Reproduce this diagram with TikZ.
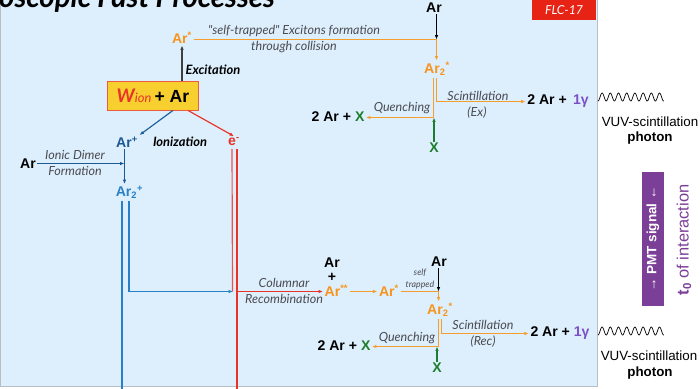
\documentclass[tikz,border=0pt]{standalone}
\usepackage{fontspec}
\setmainfont{Liberation Sans}
\newfontfamily\lato{Lato}
\usetikzlibrary{arrows.meta,calc}
\definecolor{bgblue}{RGB}{221,239,252}
\definecolor{panelgray}{RGB}{185,190,196}
\definecolor{ortext}{RGB}{247,148,29}
\definecolor{orline}{RGB}{246,158,45}
\definecolor{dblue}{RGB}{28,88,148}
\definecolor{mblue}{RGB}{40,128,198}
\definecolor{myred}{RGB}{232,52,40}
\definecolor{mygreen}{RGB}{30,125,45}
\definecolor{mypurple}{RGB}{123,63,152}
\definecolor{gviolet}{RGB}{122,80,200}
\definecolor{labelgray}{RGB}{75,75,82}
\definecolor{wyellow}{RGB}{247,208,48}
\definecolor{wborder}{RGB}{238,90,60}
\definecolor{flcred}{RGB}{230,35,20}
\tikzset{
  lbl/.style={inner sep=1.2pt, font=\fontsize{12}{14}\selectfont\bfseries},
  itl/.style={inner sep=0pt, font=\lato\itshape\fontsize{10.7}{12}\selectfont, text=labelgray},
  smallitl/.style={inner sep=0pt, font=\lato\itshape\fontsize{7.5}{9}\selectfont, text=labelgray},
  bitl/.style={inner sep=0pt, font=\lato\bfseries\itshape\fontsize{11}{12}\selectfont},
  tip/.style={-{Latex[length=3.8pt,width=3pt]}},
  conn/.style={line width=1pt},
  orconn/.style={line width=1.15pt, orline},
  heavy/.style={line width=1.4pt},
  wavy/.style={line width=0.6pt},
  plain/.style={inner sep=0pt, font=\fontsize{11.4}{13}\selectfont},
}
\begin{document}
\begin{tikzpicture}[x=0.3mm,y=-0.3mm]
\useasboundingbox (0,0) rectangle (700,388);
\fill[white] (0,0) rectangle (700,388);
% panel
\draw[panelgray, fill=bgblue, line width=0.6pt] (0.5,-10) rectangle (597,386.5);
% title (cut off at the top edge, as in the reference)
\node[anchor=base west, inner sep=0pt, font=\lato\bfseries\itshape\fontsize{25}{28}\selectfont] (title) at (-1,7) {oscopic Fast Processes};
% FLC box
\node[fill=flcred, text=white, minimum width=54.4pt, minimum height=17.8pt, inner sep=0pt,
      font=\lato\itshape\fontsize{10.5}{12}\selectfont] (flc) at (564,10) {FLC-17};

% helper rows
\coordinate (yq1) at (0,117.5);
\coordinate (yp1) at (0,101.5);
\coordinate (yq2) at (0,346.5);
\coordinate (yp2) at (0,333.5);

% ---------- top part ----------
\node[lbl, text=ortext] (arstar) at (182,38) {Ar\textsuperscript{*}};
\node[lbl] (artop) at (434,8) {Ar};
\node[lbl, text=ortext] (ar2star) at (437,69) {Ar\textsubscript{2}\textsuperscript{*}};
\coordinate (jA) at (436.5,39.5);
\draw[orconn, tip] (arstar.east |- jA) -- (jA) -- (jA |- ar2star.north);
\draw[conn, black, tip] (artop.south -| jA) -- (jA);
\node[itl] (stl1) at (294,31) {"self-trapped" Excitons formation};
\node[itl] (stl2) at (294,47) {through collision};

\node[draw=wborder, fill=wyellow, line width=0.8pt, minimum width=78pt, minimum height=24.7pt, inner sep=0pt] (wbox) at (153,95.5)
  {{\lato\bfseries\itshape\fontsize{16}{18}\selectfont\color{myred}W}{\lato\itshape\fontsize{11}{12}\selectfont\color{myred}ion}\ {\fontsize{15}{18}\selectfont\bfseries + Ar}};
\draw[conn, black!75, tip] (wbox.north -| arstar) -- (arstar.south);
\node[bitl] (excl) at (213,70) {Excitation};

\node[lbl, text=dblue] (arplus) at (127,142) {Ar\textsuperscript{+}};
\node[lbl, text=myred] (eminus) at (234,142) {e\textsuperscript{-}};
\node[bitl] (ionl) at (180,142) {Ionization};
\draw[conn, dblue!80!mblue, tip] ($(wbox.south)+(20,0)$) -- (arplus.north east);
\draw[conn, myred, tip] ($(wbox.south)+(35,0)$) -- (eminus.north);

\node[lbl] (arL) at (28,164) {Ar};
\node[lbl, text=mblue] (ar2plus) at (129.5,192) {Ar\textsubscript{2}\textsuperscript{+}};
\coordinate (bx) at (124.5,163.5);
\draw[conn, dblue, tip] (arL.east |- bx) -- (bx);
\draw[conn, dblue, tip] (arplus.south -| bx) -- (ar2plus.north -| bx);
\node[itl] (idl1) at (75,155) {Ionic Dimer};
\node[itl] (idl2) at (75,171) {Formation};

% long lines
\coordinate (rc) at (233,291.5);
\coordinate (rcR) at (237.5,291.5);
\draw[heavy, mblue] ($(ar2plus.south)+(-7.5,1)$) -- ++(0,200);
\draw[conn, mblue, tip] ($(ar2plus.south)+(-0.5,1)$) |- (rc);
\draw[conn, myred!85] ($(eminus.south)+(-2,1)$) -- (rc -| 232.5,0);
\draw[heavy, myred] ($(eminus.south)+(3,1)$) -- ++(0,260);

% ---------- lower part ----------
\node[lbl] (arB) at (332,263) {Ar};
\node[lbl] (plusB) at (332,277) {+};
\node[lbl, text=ortext, anchor=west] (arss) at (323,291) {Ar\textsuperscript{**}};
\draw[conn, myred, tip] (rcR) -- (arss.west |- rcR);
\node[itl] (crl1) at (284,283) {Columnar};
\node[itl] (crl2) at (284,299) {Recombination};
\node[lbl, text=ortext] (arstar2) at (389,291) {Ar\textsuperscript{*}};
\draw[orconn, tip] (arss.east |- rcR) -- (arstar2.west |- rcR);
\node[smallitl] (sfl1) at (420,273) {self};
\node[smallitl] (sfl2) at (420,285) {trapped};
\node[lbl] (artop2) at (439,262) {Ar};
\node[lbl, text=ortext] (ar2star2) at (440,310) {Ar\textsubscript{2}\textsuperscript{*}};
\coordinate (jB) at (438.5,291.5);
\draw[orconn, tip] (arstar2.east |- jB) -- (jB) -- (jB |- ar2star2.north);
\draw[conn, black, tip] (artop2.south -| jB) -- (jB);

% ---------- products, upper ----------
\node[lbl] (prod1) at (558,101) {2 Ar +\hspace{2pt} {\color{gviolet}1γ}};
\node[lbl] (quench1) at (338,117) {2 Ar + {\color{mygreen}X}};
\node[lbl, text=mygreen] (xg1) at (434,148) {X};
\draw[orconn, tip] ($(ar2star.south)+(-3.5,1)$) |- (quench1.east |- yq1);
\draw[orconn, tip] ($(ar2star.south)+(-0.5,1)$) |- (prod1.west |- yp1);
\draw[conn, mygreen, tip] (xg1.north) -- (xg1.north |- yq1);
\node[itl] (scl1) at (478,96) {Scintillation};
\node[itl] (exl) at (477,113) {(Ex)};
\node[itl] (ql1) at (402,108) {Quenching};

% ---------- products, lower ----------
\node[lbl] (prod2) at (560,333) {2 Ar + {\color{gviolet}1γ}};
\node[lbl] (quench2) at (344,346) {2 Ar + {\color{mygreen}X}};
\node[lbl, text=mygreen] (xg2) at (437,368) {X};
\draw[orconn, tip] ($(ar2star2.south)+(-1.5,1)$) |- (quench2.east |- yq2);
\draw[orconn, tip] ($(ar2star2.south)+(1.5,1)$) |- (prod2.west |- yp2);
\draw[conn, mygreen, tip] (xg2.north) -- (xg2.north |- yq2);
\node[itl] (scl2) at (483,325) {Scintillation};
\node[itl] (recl) at (483,342) {(Rec)};
\node[itl] (ql2) at (407,338) {Quenching};

% waves
\draw[wavy] plot[domain=0:66, samples=150, smooth] ({598+\x}, {97+4*cos(\x*43.9)});
\draw[wavy] plot[domain=0:66, samples=150, smooth] ({598+\x}, {331+4*cos(\x*43.9)});

% right column
\node[plain] (vuv1) at (650,122) {VUV-scintillation};
\node[plain, font=\fontsize{11.4}{13}\selectfont\bfseries] (ph1) at (650,138) {photon};
\node[plain] (vuv2) at (649,356) {VUV-scintillation};
\node[plain, font=\fontsize{11.4}{13}\selectfont\bfseries] (ph2) at (650,373) {photon};

\node[rotate=90, fill=mypurple, text=white, minimum width=114pt, minimum height=18.7pt, inner sep=0pt,
      font=\fontsize{11.5}{13}\selectfont\bfseries] (pmt) at (653,239) {→ PMT signal ←};
\node[rotate=90, text=mypurple, inner sep=0pt, font=\fontsize{14}{16}\selectfont] (t0) at (684,240)
  {\textbf{t\textsubscript{0}} of interaction};
\end{tikzpicture}
\end{document}
